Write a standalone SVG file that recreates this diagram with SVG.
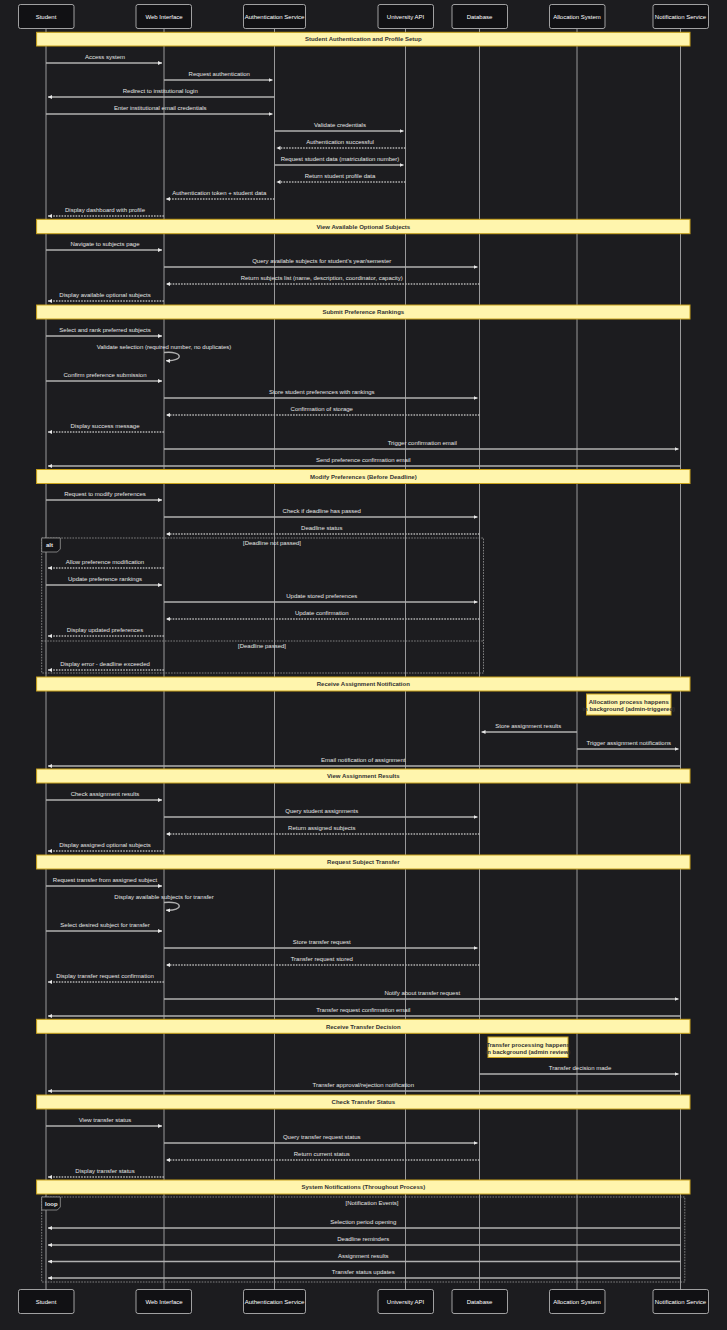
<svg xmlns="http://www.w3.org/2000/svg" width="727" height="1330" viewBox="0 0 727 1330">
<defs>
<marker id="ah" viewBox="0 0 10 10" markerUnits="userSpaceOnUse" markerWidth="4" markerHeight="4" refX="10" refY="5" orient="auto">
<path d="M0,0 L10,5 L0,10 z" fill="#e8e8e8"/>
</marker>
<style>
text{font-family:"Liberation Sans",Arial,sans-serif;font-size:6px}
.ll{stroke:#a8a8a8;stroke-width:0.9}
.ab{fill:#111114;stroke:#c4c4c4;stroke-width:0.8}
.at{fill:#ffffff;text-anchor:middle;dominant-baseline:central}
.m{stroke:#b0b0b0;stroke-width:1.3;fill:none;marker-end:url(#ah)}
.d{stroke-dasharray:1.6 1.2}
.mt{fill:#e4e4e4;text-anchor:middle}
.hb{fill:#fff5ad;stroke:#c9a21c;stroke-width:1}
.ht{fill:#333333;text-anchor:middle;font-weight:bold}
.fr{fill:none;stroke:#9a9a9a;stroke-width:0.8;stroke-dasharray:1.6 1.2}
.lb{fill:#141417;stroke:#9a9a9a;stroke-width:0.8}
.lt{fill:#e8e8e8;font-weight:bold}
.ct{fill:#e4e4e4;text-anchor:middle}
</style>
</defs>
<rect width="727" height="1330" fill="#1c1c1f"/>
<g id="lifelines">
<line class="ll" x1="46" y1="29" x2="46" y2="1290"/>
<line class="ll" x1="164" y1="29" x2="164" y2="1290"/>
<line class="ll" x1="274.5" y1="29" x2="274.5" y2="1290"/>
<line class="ll" x1="405.5" y1="29" x2="405.5" y2="1290"/>
<line class="ll" x1="479.5" y1="29" x2="479.5" y2="1290"/>
<line class="ll" x1="577" y1="29" x2="577" y2="1290"/>
<line class="ll" x1="680.5" y1="29" x2="680.5" y2="1290"/>
</g>
<g id="actor-student">
<rect class="ab" x="18.5" y="4.5" width="55.5" height="24" rx="2"/><text class="at" x="46" y="16.5">Student</text>
<rect class="ab" x="18.5" y="1289.5" width="55.5" height="24" rx="2"/><text class="at" x="46" y="1301.5">Student</text>
</g>
<g id="actor-web">
<rect class="ab" x="136" y="4.5" width="55.5" height="24" rx="2"/><text class="at" x="164" y="16.5">Web Interface</text>
<rect class="ab" x="136" y="1289.5" width="55.5" height="24" rx="2"/><text class="at" x="164" y="1301.5">Web Interface</text>
</g>
<g id="actor-auth">
<rect class="ab" x="243.5" y="4.5" width="62" height="24" rx="2"/><text class="at" x="274.5" y="16.5">Authentication Service</text>
<rect class="ab" x="243.5" y="1289.5" width="62" height="24" rx="2"/><text class="at" x="274.5" y="1301.5">Authentication Service</text>
</g>
<g id="actor-uniapi">
<rect class="ab" x="378" y="4.5" width="55.5" height="24" rx="2"/><text class="at" x="405.5" y="16.5">University API</text>
<rect class="ab" x="378" y="1289.5" width="55.5" height="24" rx="2"/><text class="at" x="405.5" y="1301.5">University API</text>
</g>
<g id="actor-db">
<rect class="ab" x="452" y="4.5" width="55.5" height="24" rx="2"/><text class="at" x="479.5" y="16.5">Database</text>
<rect class="ab" x="452" y="1289.5" width="55.5" height="24" rx="2"/><text class="at" x="479.5" y="1301.5">Database</text>
</g>
<g id="actor-alloc">
<rect class="ab" x="549.5" y="4.5" width="55.5" height="24" rx="2"/><text class="at" x="577" y="16.5">Allocation System</text>
<rect class="ab" x="549.5" y="1289.5" width="55.5" height="24" rx="2"/><text class="at" x="577" y="1301.5">Allocation System</text>
</g>
<g id="actor-notif">
<rect class="ab" x="653" y="4.5" width="55.5" height="24" rx="2"/><text class="at" x="680.5" y="16.5">Notification Service</text>
<rect class="ab" x="653" y="1289.5" width="55.5" height="24" rx="2"/><text class="at" x="680.5" y="1301.5">Notification Service</text>
</g>
<g id="frames">
<rect class="fr" x="41.7" y="538" width="441.8" height="135"/>
<line class="fr" x1="41.7" y1="641" x2="483.5" y2="641"/>
<polygon class="lb" points="41.7,538 60.3,538 60.3,549 57.3,552 41.7,552"/>
<text class="lt" x="46" y="547">alt</text>
<text class="ct" x="272" y="545">[Deadline not passed]</text>
<text class="ct" x="262" y="648">[Deadline passed]</text>
<rect class="fr" x="41.7" y="1197" width="643.1" height="85"/>
<polygon class="lb" points="41.7,1197 60.3,1197 60.3,1207 57.3,1210 41.7,1210"/>
<text class="lt" x="45" y="1205.5">loop</text>
<text class="ct" x="372" y="1205">[Notification Events]</text>
</g>
<g id="header-1"><rect class="hb" x="36.6" y="32.3" width="653.4" height="13.7"/><text class="ht" x="363.3" y="41.3">Student Authentication and Profile Setup</text></g>
<g id="header-2"><rect class="hb" x="36.6" y="219.3" width="653.4" height="14.4"/><text class="ht" x="363.3" y="228.6">View Available Optional Subjects</text></g>
<g id="header-3"><rect class="hb" x="36.6" y="305" width="653.4" height="14"/><text class="ht" x="363.3" y="314.2">Submit Preference Rankings</text></g>
<g id="header-4"><rect class="hb" x="36.6" y="469.5" width="653.4" height="14"/><text class="ht" x="363.3" y="478.7">Modify Preferences (Before Deadline)</text></g>
<g id="header-5"><rect class="hb" x="36.6" y="677" width="653.4" height="14"/><text class="ht" x="363.3" y="686.2">Receive Assignment Notification</text></g>
<g id="header-6"><rect class="hb" x="36.6" y="769" width="653.4" height="14"/><text class="ht" x="363.3" y="778.2">View Assignment Results</text></g>
<g id="header-7"><rect class="hb" x="36.6" y="855" width="653.4" height="14"/><text class="ht" x="363.3" y="864.2">Request Subject Transfer</text></g>
<g id="header-8"><rect class="hb" x="36.6" y="1019.3" width="653.4" height="14"/><text class="ht" x="363.3" y="1028.5">Receive Transfer Decision</text></g>
<g id="header-9"><rect class="hb" x="36.6" y="1095" width="653.4" height="14"/><text class="ht" x="363.3" y="1104.2">Check Transfer Status</text></g>
<g id="header-10"><rect class="hb" x="36.6" y="1180" width="653.4" height="14"/><text class="ht" x="363.3" y="1189.2">System Notifications (Throughout Process)</text></g>
<g id="note-allocation"><rect class="hb" x="586.5" y="694" width="84.5" height="21"/><text class="ht" x="628.75" y="704">Allocation process happens</text><text class="ht" x="628.75" y="711">in background (admin-triggered)</text></g>
<g id="note-transfer"><rect class="hb" x="488" y="1037" width="80" height="20.5"/><text class="ht" x="528" y="1047">Transfer processing happens</text><text class="ht" x="528" y="1053.5">in background (admin review)</text></g>
<g id="connectors">
<line class="m" x1="46" y1="63" x2="162" y2="63"/>
<line class="m" x1="164" y1="80" x2="272.5" y2="80"/>
<line class="m" x1="274.5" y1="97" x2="48" y2="97"/>
<line class="m" x1="46" y1="114" x2="272.5" y2="114"/>
<line class="m" x1="274.5" y1="131" x2="403.5" y2="131"/>
<line class="m d" x1="405.5" y1="148" x2="276.5" y2="148"/>
<line class="m" x1="274.5" y1="165" x2="403.5" y2="165"/>
<line class="m d" x1="405.5" y1="182" x2="276.5" y2="182"/>
<line class="m d" x1="274.5" y1="199" x2="166" y2="199"/>
<line class="m d" x1="164" y1="216" x2="48" y2="216"/>
<line class="m" x1="46" y1="250" x2="162" y2="250"/>
<line class="m" x1="164" y1="267" x2="477.5" y2="267"/>
<line class="m d" x1="479.5" y1="284" x2="166" y2="284"/>
<line class="m d" x1="164" y1="301" x2="48" y2="301"/>
<line class="m" x1="46" y1="336" x2="162" y2="336"/>
<path class="m" d="M164,352.5 C184,350.5 184,361.5 166,360.7"/>
<line class="m" x1="46" y1="381" x2="162" y2="381"/>
<line class="m" x1="164" y1="398" x2="477.5" y2="398"/>
<line class="m d" x1="479.5" y1="415" x2="166" y2="415"/>
<line class="m d" x1="164" y1="432" x2="48" y2="432"/>
<line class="m" x1="164" y1="449" x2="678.5" y2="449"/>
<line class="m" x1="680.5" y1="466" x2="48" y2="466"/>
<line class="m" x1="46" y1="500" x2="162" y2="500"/>
<line class="m" x1="164" y1="517" x2="477.5" y2="517"/>
<line class="m d" x1="479.5" y1="534" x2="166" y2="534"/>
<line class="m d" x1="164" y1="568" x2="48" y2="568"/>
<line class="m" x1="46" y1="585" x2="162" y2="585"/>
<line class="m" x1="164" y1="602" x2="477.5" y2="602"/>
<line class="m d" x1="479.5" y1="619" x2="166" y2="619"/>
<line class="m d" x1="164" y1="636" x2="48" y2="636"/>
<line class="m d" x1="164" y1="670" x2="48" y2="670"/>
<line class="m" x1="577" y1="732" x2="481.5" y2="732"/>
<line class="m" x1="577" y1="749" x2="678.5" y2="749"/>
<line class="m" x1="680.5" y1="766" x2="48" y2="766"/>
<line class="m" x1="46" y1="800" x2="162" y2="800"/>
<line class="m" x1="164" y1="817" x2="477.5" y2="817"/>
<line class="m d" x1="479.5" y1="834" x2="166" y2="834"/>
<line class="m d" x1="164" y1="851" x2="48" y2="851"/>
<line class="m" x1="46" y1="886" x2="162" y2="886"/>
<path class="m" d="M164,902.5 C184,900.5 184,911 166,910.2"/>
<line class="m" x1="46" y1="931" x2="162" y2="931"/>
<line class="m" x1="164" y1="948" x2="477.5" y2="948"/>
<line class="m d" x1="479.5" y1="965" x2="166" y2="965"/>
<line class="m d" x1="164" y1="982" x2="48" y2="982"/>
<line class="m" x1="164" y1="999" x2="678.5" y2="999"/>
<line class="m" x1="680.5" y1="1016" x2="48" y2="1016"/>
<line class="m" x1="479.5" y1="1074" x2="678.5" y2="1074"/>
<line class="m" x1="680.5" y1="1091" x2="48" y2="1091"/>
<line class="m" x1="46" y1="1126" x2="162" y2="1126"/>
<line class="m" x1="164" y1="1143" x2="477.5" y2="1143"/>
<line class="m d" x1="479.5" y1="1160" x2="166" y2="1160"/>
<line class="m d" x1="164" y1="1177" x2="48" y2="1177"/>
<line class="m" x1="680.5" y1="1228" x2="48" y2="1228"/>
<line class="m" x1="680.5" y1="1245" x2="48" y2="1245"/>
<line class="m" x1="680.5" y1="1261.5" x2="48" y2="1261.5"/>
<line class="m" x1="680.5" y1="1278" x2="48" y2="1278"/>
</g>
<g id="connector-labels">
<text class="mt" x="105" y="59">Access system</text>
<text class="mt" x="219.25" y="76">Request authentication</text>
<text class="mt" x="160.25" y="93">Redirect to institutional login</text>
<text class="mt" x="160.25" y="110">Enter institutional email credentials</text>
<text class="mt" x="340" y="127">Validate credentials</text>
<text class="mt" x="340" y="144">Authentication successful</text>
<text class="mt" x="340" y="161">Request student data (matriculation number)</text>
<text class="mt" x="340" y="178">Return student profile data</text>
<text class="mt" x="219.25" y="195">Authentication token + student data</text>
<text class="mt" x="105" y="212">Display dashboard with profile</text>
<text class="mt" x="105" y="246">Navigate to subjects page</text>
<text class="mt" x="321.75" y="263">Query available subjects for student's year/semester</text>
<text class="mt" x="321.75" y="280">Return subjects list (name, description, coordinator, capacity)</text>
<text class="mt" x="105" y="297">Display available optional subjects</text>
<text class="mt" x="105" y="332">Select and rank preferred subjects</text>
<text class="mt" x="164" y="349">Validate selection (required number, no duplicates)</text>
<text class="mt" x="105" y="377">Confirm preference submission</text>
<text class="mt" x="321.75" y="394">Store student preferences with rankings</text>
<text class="mt" x="321.75" y="411">Confirmation of storage</text>
<text class="mt" x="105" y="428">Display success message</text>
<text class="mt" x="422.25" y="445">Trigger confirmation email</text>
<text class="mt" x="363.25" y="462">Send preference confirmation email</text>
<text class="mt" x="105" y="496">Request to modify preferences</text>
<text class="mt" x="321.75" y="513">Check if deadline has passed</text>
<text class="mt" x="321.75" y="530">Deadline status</text>
<text class="mt" x="105" y="564">Allow preference modification</text>
<text class="mt" x="105" y="581">Update preference rankings</text>
<text class="mt" x="321.75" y="598">Update stored preferences</text>
<text class="mt" x="321.75" y="615">Update confirmation</text>
<text class="mt" x="105" y="632">Display updated preferences</text>
<text class="mt" x="105" y="666">Display error - deadline exceeded</text>
<text class="mt" x="528.25" y="728">Store assignment results</text>
<text class="mt" x="628.75" y="745">Trigger assignment notifications</text>
<text class="mt" x="363.25" y="762">Email notification of assignment</text>
<text class="mt" x="105" y="796">Check assignment results</text>
<text class="mt" x="321.75" y="813">Query student assignments</text>
<text class="mt" x="321.75" y="830">Return assigned subjects</text>
<text class="mt" x="105" y="847">Display assigned optional subjects</text>
<text class="mt" x="105" y="882">Request transfer from assigned subject</text>
<text class="mt" x="164" y="899">Display available subjects for transfer</text>
<text class="mt" x="105" y="927">Select desired subject for transfer</text>
<text class="mt" x="321.75" y="944">Store transfer request</text>
<text class="mt" x="321.75" y="961">Transfer request stored</text>
<text class="mt" x="105" y="978">Display transfer request confirmation</text>
<text class="mt" x="422.25" y="995">Notify about transfer request</text>
<text class="mt" x="363.25" y="1012">Transfer request confirmation email</text>
<text class="mt" x="580" y="1070">Transfer decision made</text>
<text class="mt" x="363.25" y="1087">Transfer approval/rejection notification</text>
<text class="mt" x="105" y="1122">View transfer status</text>
<text class="mt" x="321.75" y="1139">Query transfer request status</text>
<text class="mt" x="321.75" y="1156">Return current status</text>
<text class="mt" x="105" y="1173">Display transfer status</text>
<text class="mt" x="363.25" y="1224">Selection period opening</text>
<text class="mt" x="363.25" y="1241">Deadline reminders</text>
<text class="mt" x="363.25" y="1257.5">Assignment results</text>
<text class="mt" x="363.25" y="1274">Transfer status updates</text>
</g>
</svg>
